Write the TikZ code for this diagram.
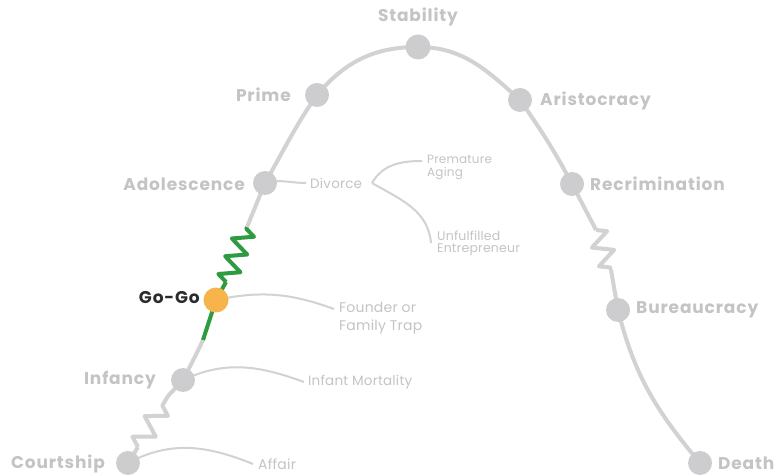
\documentclass[tikz,border=0pt]{standalone}
\usepackage{fontspec}
\setmainfont{Poppins}
\newfontfamily\bigfont{Poppins}[LetterSpace=5]
\newfontfamily\smallfont{Poppins}[LetterSpace=1.5]
\usetikzlibrary{decorations.pathmorphing,backgrounds,calc}
\definecolor{dotgray}{HTML}{CDCDCF}
\definecolor{linegray}{HTML}{D2D2D2}
\definecolor{txtgray}{HTML}{C4C4C4}
\definecolor{gogoor}{HTML}{F6B44B}
\definecolor{gogreen}{HTML}{2E9B40}
\definecolor{darktxt}{HTML}{2B2B2B}
\begin{document}
\begin{tikzpicture}[x=1pt,y=1pt,
 dot/.style={circle,fill=dotgray,minimum size=24pt,inner sep=0pt},
 biglabel/.style={font=\bigfont\fontsize{17}{19}\selectfont\bfseries,text=txtgray,inner sep=0pt},
 smalllabel/.style={font=\smallfont\fontsize{13.5}{15}\selectfont,text=txtgray,inner sep=0pt,align=left},
 mainline/.style={draw=linegray,line width=4pt,line join=round},
 greenline/.style={draw=gogreen,line width=4pt,line join=round},
 branch/.style={draw=linegray,line width=2pt},
 zz/.style={decorate,decoration={zigzag,segment length=#1,amplitude=10pt}},
 zz/.default=14
]
\useasboundingbox (0,0) rectangle (776,476);
% stage circles
\node[dot] (courtship) at (128,13) {};
\node[dot] (infancy) at (183,96) {};
\node[dot,fill=gogoor,minimum size=25pt] (gogo) at (216,176) {};
\node[dot] (adol) at (265,293) {};
\node[dot] (prime) at (317,381) {};
\node[dot,minimum size=25pt] (stab) at (418,429) {};
\node[dot] (arist) at (520,376) {};
\node[dot] (recrim) at (572,292) {};
\node[dot] (bureau) at (618,166) {};
\node[dot] (death) at (700,13) {};
% stage labels
\node[biglabel,anchor=east] (lcourt) at (105,12) {Courtship};
\node[biglabel,anchor=east] (linf) at (156,96) {Infancy};
\node[biglabel,anchor=east,text=darktxt] (lgogo) at (200,178) {Go-Go};
\node[biglabel,anchor=east] (ladol) at (245,292) {Adolescence};
\node[biglabel,anchor=east] (lprime) at (291,381) {Prime};
\node[biglabel] (lstab) at (418,459) {Stability};
\node[biglabel,anchor=west] (larist) at (540,375) {Aristocracy};
\node[biglabel,anchor=west] (lrecrim) at (590,292) {Recrimination};
\node[biglabel,anchor=west] (lbureau) at (636,166) {Bureaucracy};
\node[biglabel,anchor=west] (ldeath) at (718,13) {Death};
% trap labels
\node[smalllabel,anchor=west,font=\smallfont\fontsize{14}{15}\selectfont] (affair) at (258,12) {Affair};
\node[smalllabel,anchor=west] (infmort) at (308,94) {Infant Mortality};
\node[smalllabel,anchor=west,font=\smallfont\fontsize{14}{18}\selectfont] (founder) at (339,158) {Founder or\\Family Trap};
\node[smalllabel,anchor=west] (divorce) at (310,293) {Divorce};
\node[smalllabel,anchor=west,font=\smallfont\fontsize{12}{13}\selectfont] (premature) at (427,309) {Premature\\Aging};
\node[smalllabel,anchor=west,font=\smallfont\fontsize{12.5}{12}\selectfont] (unful) at (437,233) {Unfulfilled\\Entrepreneur};
\coordinate (fork) at (372,293);
% path coordinates
\coordinate (zA) at (138,29);
\coordinate (zB) at (168,80);
\coordinate (gA) at (203,136);
\coordinate (gB) at (226,194);
\coordinate (gC) at (247,249);
\coordinate (rA) at (596,246);
\coordinate (rB) at (611,206);
\begin{scope}[on background layer]
\fill[white] (0,0) rectangle (776,476);
\draw[mainline] (courtship.center) -- (zA);
\draw[mainline,zz=24] (zA) -- (zB);
\draw[mainline] (zB) -- (infancy.center) to[out=63,in=245] (gA);
\draw[greenline] (gA) -- (gogo.center) -- (gB);
\draw[greenline,zz=19] (gB) -- (gC);
\draw[mainline] (gC) -- (adol.center) to[out=60,in=235] (prime.center)
  to[out=50,in=180] (stab.center) to[out=0,in=138] (arist.center)
  to[out=-55,in=118] (recrim.center) -- (rA);
\draw[mainline,zz=20] (rA) -- (rB);
\draw[mainline] (rB) -- (bureau.center) to[out=-76,in=130] (death.center);
% branches
\draw[branch] (courtship.center) to[out=28,in=158] ([xshift=-5pt]affair.west);
\draw[branch] (infancy.center) to[out=25,in=160] ([xshift=-4pt]infmort.west);
\draw[branch] (gogo.center) to[out=12,in=160] ([xshift=-5pt,yshift=9pt]founder.west);
\draw[branch] (adol.center) to[out=15,in=180] ([xshift=-4pt]divorce.west);
\draw[branch] (fork) to[out=60,in=180] ([xshift=-5pt,yshift=6pt]premature.west);
\draw[branch] (fork) to[out=-30,in=95] ([xshift=-6pt]unful.west);
\end{scope}
\end{tikzpicture}
\end{document}
